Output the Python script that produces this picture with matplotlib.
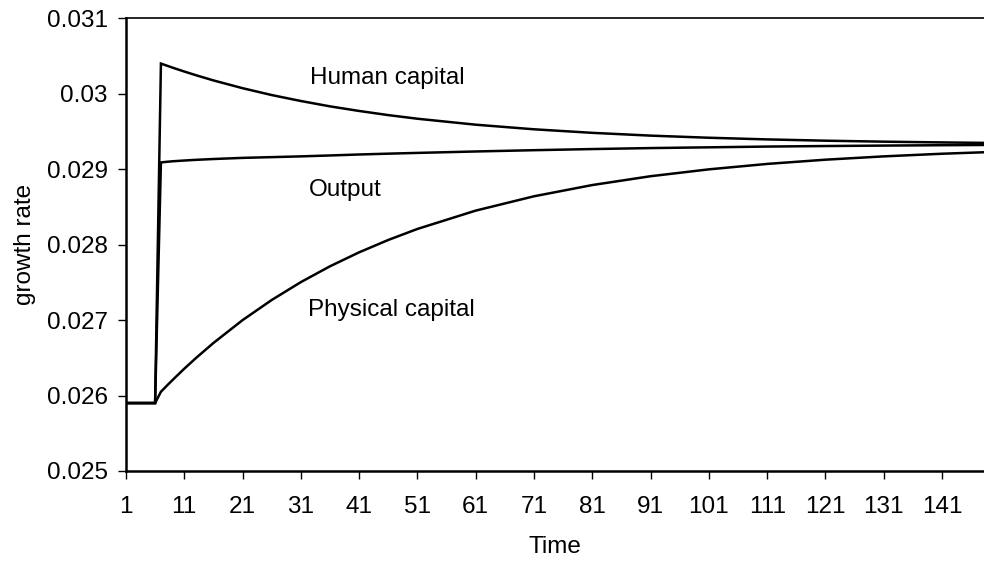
import numpy as np
import matplotlib.pyplot as plt

plt.rcParams['font.family'] = ['Liberation Sans', 'DejaVu Sans']

# time points where values were read
t = [1, 2, 3, 4, 5, 6, 7, 8, 9, 11, 13, 16, 21, 26, 31, 36, 41, 46, 51,
     61, 71, 81, 91, 101, 111, 121, 131, 141, 148]

human = [0.0259, 0.0259, 0.0259, 0.0259, 0.0259, 0.0259,
         0.03040, 0.030373, 0.030346, 0.030295, 0.030246, 0.030177, 0.030074,
         0.029983, 0.029904, 0.029833, 0.029772, 0.029717, 0.029669,
         0.029590, 0.029529, 0.029482, 0.029445, 0.029417, 0.029395,
         0.029378, 0.029365, 0.029355, 0.029349]

output = [0.0259, 0.0259, 0.0259, 0.0259, 0.0259, 0.0259,
          0.02909, 0.029098, 0.029105, 0.029115, 0.029124, 0.029135, 0.02915,
          0.02916, 0.02917, 0.029182, 0.029195, 0.029206, 0.029216,
          0.029235, 0.029252, 0.029267, 0.02928, 0.02929, 0.02930,
          0.029307, 0.029313, 0.029318, 0.029321]

physical = [0.0259, 0.0259, 0.0259, 0.0259, 0.0259, 0.0259,
            0.02605, 0.026129, 0.026206, 0.026355, 0.026496, 0.026696, 0.026999,
            0.027266, 0.027503, 0.027713, 0.027898, 0.028062, 0.028208,
            0.028451, 0.028641, 0.02879, 0.028907, 0.028998, 0.02907,
            0.029126, 0.02917, 0.029205, 0.029224]

xticks = list(range(1, 142, 10))
yticks = [0.025, 0.026, 0.027, 0.028, 0.029, 0.03, 0.031]
ylabels = ['0.025', '0.026', '0.027', '0.028', '0.029', '0.03', '0.031']

fs = 17.5

fig = plt.figure(figsize=(9.84, 5.62), dpi=100)
ax = fig.add_axes([0.128, 0.162, 0.872, 0.8054])

for y in (human, output, physical):
    ax.plot(t, y, color='black', lw=1.8, solid_joinstyle='miter')

ax.set_xlim(1, 148.2)
ax.set_ylim(0.025, 0.031)
ax.set_xticks(xticks)
ax.set_xticklabels([str(v) for v in xticks], fontsize=fs)
ax.set_yticks(yticks)
ax.set_yticklabels(ylabels, fontsize=fs)
ax.tick_params(direction='out', length=6, width=1)
ax.tick_params(axis='x', pad=12)
ax.tick_params(axis='y', pad=7)
ax.spines['right'].set_visible(False)
ax.spines['left'].set_linewidth(1.8)
ax.spines['bottom'].set_linewidth(1.8)
ax.spines['top'].set_linewidth(1.2)

ax.set_xlabel('Time', fontsize=fs, labelpad=13)
ax.set_ylabel('growth rate', fontsize=fs, labelpad=8)

ax.text(32.6, 0.03021, 'Human capital', fontsize=fs, va='center')
ax.text(32.3, 0.02872, 'Output', fontsize=fs, va='center')
ax.text(32.3, 0.02713, 'Physical capital', fontsize=fs, va='center')

fig.savefig('out.png', dpi=100)
